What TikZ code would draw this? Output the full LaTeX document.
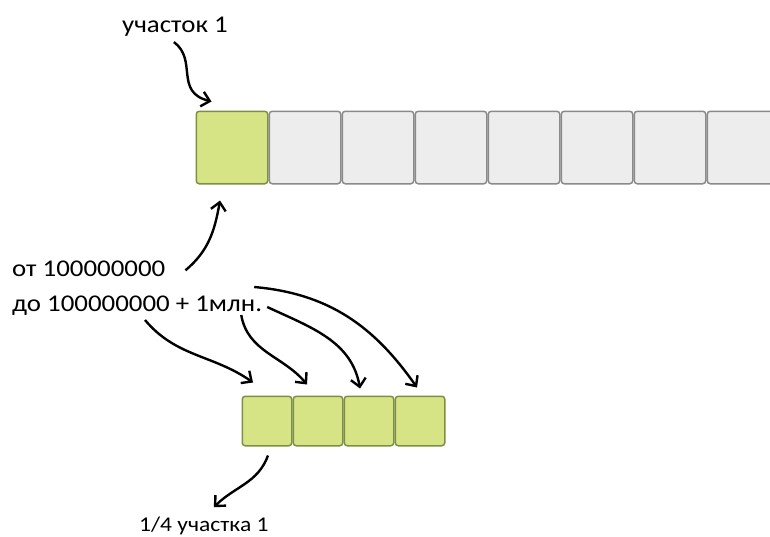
\documentclass[tikz,border=0pt]{standalone}
\usepackage{fontspec}
\setmainfont[FakeStretch=1.12]{Carlito}
\usepackage{xcolor}
\usetikzlibrary{positioning, arrows.meta}
\definecolor{chunkgreen}{HTML}{D7E485}
\definecolor{chunkedge}{HTML}{7E8F45}
\definecolor{cellgrey}{HTML}{EDEDED}
\definecolor{celledge}{HTML}{8A8A8A}
\tikzset{
  cell/.style={rectangle, draw=celledge, fill=cellgrey, rounded corners=3pt, line width=1.5pt, minimum width=71.5pt, minimum height=72.5pt, inner sep=0pt},
  hot/.style={cell, draw=chunkedge, fill=chunkgreen},
  part/.style={hot, minimum width=49.5pt, minimum height=49.5pt},
  note/.style={inner sep=0pt, font=\fontsize{24}{27}\selectfont},
  small/.style={inner sep=0pt, font=\fontsize{21}{24}\selectfont},
  arrow/.style={line width=2.4pt, -{Straight Barb[length=8pt, width=15pt]}},
}
\begin{document}
\begin{tikzpicture}[x=1pt, y=-1pt, node distance=0pt]
        \useasboundingbox (0,0) rectangle (770,536);
        \fill[white] (0,0) rectangle (770,536);
        \clip (0,0) rectangle (770,536);

        % Top row
        \node[hot] (seg1) at (232,147.5) {};
        \node[cell, right=of seg1] (seg2) {};
        \node[cell, right=of seg2] (seg3) {};
        \node[cell, right=of seg3] (seg4) {};
        \node[cell, right=of seg4] (seg5) {};
        \node[cell, right=of seg5] (seg6) {};
        \node[cell, right=of seg6] (seg7) {};
        \node[cell, right=of seg7] (seg8) {};

        % Bottom row
        \node[part] (q1) at (267,421) {};
        \node[part, right=of q1] (q2) {};
        \node[part, right=of q2] (q3) {};
        \node[part, right=of q3] (q4) {};

        % Labels
        \node[note, anchor=base west] (lbl) at (122,32) {участок 1};
        \node[note, anchor=base west] (rangeA) at (12,276) {от 100000000};
        \node[note, anchor=base west] (rangeB) at (12,311) {до 100000000 + 1млн.};
        \node[small, anchor=base west] (quarter) at (139,531) {1/4 участка 1};

        % Connections
        \draw[arrow] ([shift={(-1,6)}]lbl.south) .. controls (198,60) and (174,92) .. ([shift={(16,-9)}]seg1.north west);
        \draw[arrow] ([shift={(20,2)}]rangeA.east) to[out=40, in=-100] ([shift={(-12,16)}]seg1.south);
        \draw[arrow] ([shift={(133,9)}]rangeB.base west) to[out=-50, in=145] ([shift={(-14,-13)}]q1.north);
        \draw[arrow] ([shift={(-21,4)}]rangeB.base east) to[out=-80, in=130] ([shift={(-11,-11)}]q2.north);
        \draw[arrow] ([shift={(5,-4)}]rangeB.base east) to[out=-25, in=100] ([shift={(-9,-7)}]q3.north);
        \draw[arrow] ([shift={(-8,-24)}]rangeB.base east) to[out=-5, in=125] ([shift={(-3,-8)}]q4.north);
        \draw[arrow] ([shift={(1,9)}]q1.south) to[out=-110, in=45] ([shift={(10,-9)}]quarter.north);
\end{tikzpicture}
\end{document}
